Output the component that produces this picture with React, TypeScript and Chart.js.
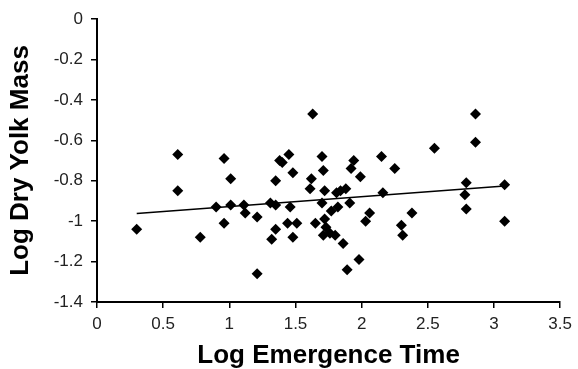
import React, { useEffect, useRef } from 'react';
import { Chart, registerables } from 'chart.js';

Chart.register(...registerables);

const xValues = [
  0.30, 0.61, 0.61, 0.78, 0.96, 1.01, 0.90, 1.01, 0.96, 1.11,
  1.12, 1.63, 1.21, 1.21, 1.31, 1.35, 1.35, 1.38, 1.40, 1.45,
  1.48, 1.46, 1.35, 1.32, 1.44, 1.51, 1.48, 1.62, 1.61, 1.70,
  1.71, 1.72, 1.70, 1.65, 1.72, 1.73, 1.71, 1.76, 1.80, 1.86,
  1.77, 1.82, 1.81, 1.84, 1.88, 1.91, 1.94, 1.92, 1.99, 1.89,
  1.98, 2.06, 2.03, 2.15, 2.25, 2.16, 2.55, 2.86, 2.86, 2.79,
  2.78, 2.79, 3.08, 3.08, 2.38, 2.30, 2.31,
];
const yValues = [
  -1.04, -0.67, -0.85, -1.08, -0.69, -0.79, -0.93, -0.92, -1.01, -0.92,
  -0.96, -0.47, -0.98, -1.26, -0.91, -0.92, -0.80, -0.70, -0.71, -0.67,
  -0.76, -0.93, -1.04, -1.09, -1.01, -1.01, -1.08, -0.79, -0.84, -0.68,
  -0.75, -0.85, -0.91, -1.01, -0.99, -1.03, -1.07, -1.06, -1.07, -1.11,
  -0.95, -0.93, -0.86, -0.85, -0.84, -0.91, -0.70, -0.74, -0.78, -1.24,
  -1.19, -0.96, -1.00, -0.68, -0.74, -0.86, -0.64, -0.47, -0.61, -0.81,
  -0.87, -0.94, -0.82, -1.00, -0.96, -1.02, -1.07,
];
const trendX = [0.3, 3.08];
const trendY = [-0.962, -0.826];
const xTickLabels = ['0', '0.5', '1', '1.5', '2', '2.5', '3', '3.5'];
const yTickLabels = ['0', '-0.2', '-0.4', '-0.6', '-0.8', '-1', '-1.2', '-1.4'];
const xTitle = 'Log Emergence Time';
const yTitle = 'Log Dry Yolk Mass';

export default function App() {
  const ref = useRef<HTMLCanvasElement | null>(null);
  useEffect(() => {
    if (!ref.current) return;
    const font = "'Liberation Sans', Arial, sans-serif";
    const chart = new Chart(ref.current, {
      type: 'scatter',
      data: {
        datasets: [
          {
            type: 'line',
            data: trendX.map((x, i) => ({ x, y: trendY[i] })),
            borderColor: '#000',
            borderWidth: 1.5,
            pointRadius: 0,
            fill: false,
          } as any,
          {
            data: xValues.map((x, i) => ({ x, y: yValues[i] })),
            pointStyle: 'rectRot',
            pointRadius: 5.5,
            backgroundColor: '#000',
            borderColor: '#000',
            borderWidth: 0,
          },
        ],
      },
      options: {
        responsive: false,
        animation: false,
        layout: { padding: { top: 19, right: 16, left: 0, bottom: 0 } },
        plugins: { legend: { display: false }, tooltip: { enabled: false } },
        scales: {
          x: {
            type: 'linear',
            min: 0,
            max: 3.5,
            afterFit: (s: any) => { s.height = 67; },
            afterBuildTicks: (s: any) => {
              s.ticks = xTickLabels.map((l) => ({ value: parseFloat(l) }));
            },
            ticks: {
              callback: (_v: any, i: number) => xTickLabels[i],
              color: '#222',
              font: { family: font, size: 17 },
              padding: 6,
              maxRotation: 0,
            },
            grid: { drawOnChartArea: false, tickLength: 6, color: '#000', lineWidth: 1.5 },
            border: { color: '#000', width: 2 },
            title: {
              display: true,
              text: xTitle,
              color: '#000',
              font: { family: font, size: 26, weight: 'bold', lineHeight: 1 },
              padding: { top: 0, bottom: 0 },
            },
          },
          y: {
            type: 'linear',
            min: -1.4,
            max: 0,
            afterFit: (s: any) => { s.width = 97; },
            afterBuildTicks: (s: any) => {
              s.ticks = yTickLabels.map((l) => ({ value: parseFloat(l) }));
            },
            ticks: {
              callback: (_v: any, i: number) => yTickLabels[i],
              color: '#222',
              font: { family: font, size: 17 },
              padding: 8,
            },
            grid: { drawOnChartArea: false, tickLength: 6, color: '#000', lineWidth: 1.5 },
            border: { color: '#000', width: 2 },
            title: {
              display: true,
              text: yTitle,
              color: '#000',
              font: { family: font, size: 26, weight: 'bold', lineHeight: 1 },
              padding: { top: 8, bottom: 0 },
            },
          },
        },
      },
    });
    return () => chart.destroy();
  }, []);
  return (
    <div style={{ position: 'fixed', left: 0, top: 0, width: 578, height: 369, background: '#fff' }}>
      <canvas ref={ref} width={578} height={369} />
    </div>
  );
}
